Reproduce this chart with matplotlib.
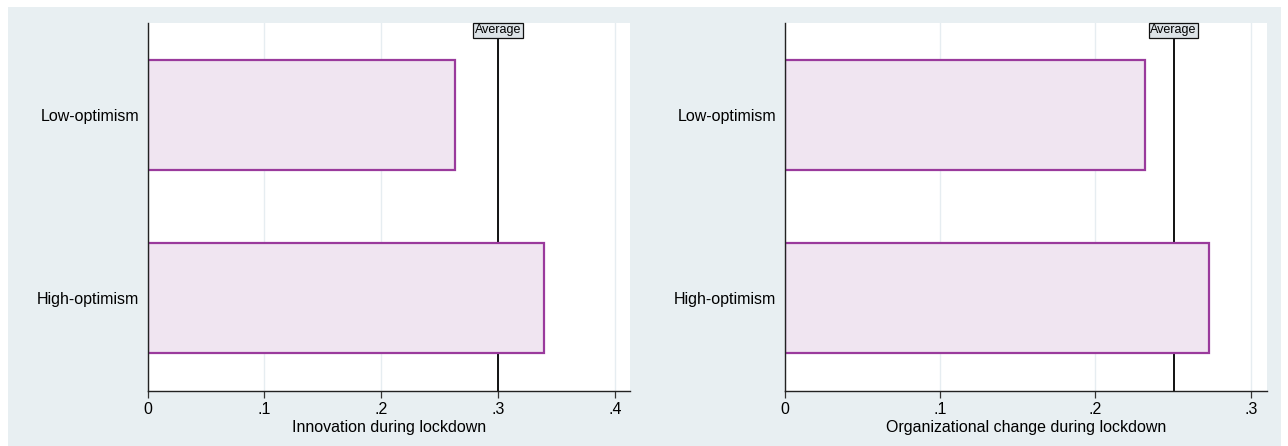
import matplotlib
matplotlib.use("Agg")
import matplotlib.pyplot as plt
from matplotlib.patches import Rectangle

plt.rcParams['font.family'] = ['Liberation Sans', 'DejaVu Sans']

categories = ["Low-optimism", "High-optimism"]
innovation = [0.263, 0.339]
innovation_avg = 0.300
orgchange = [0.2316, 0.2728]
orgchange_avg = 0.2503
xlabels = ["Innovation during lockdown", "Organizational change during lockdown"]
ticks_left = [0, 0.1, 0.2, 0.3, 0.4]
ticks_right = [0, 0.1, 0.2, 0.3]
ticklabels_left = ["0", ".1", ".2", ".3", ".4"]
ticklabels_right = ["0", ".1", ".2", ".3"]

W, H = 1288, 446
fig = plt.figure(figsize=(W / 100, H / 100), dpi=100)
fig.patch.set_facecolor("white")
fig.add_artist(Rectangle((8 / W, 0), (1281 - 8) / W, (H - 7) / H,
                         transform=fig.transFigure, facecolor="#e8eff2",
                         edgecolor="none", zorder=0))

fill = "#f0e5f1"
edge = "#9a3a9c"

def panel(rect, values, avg, xlabel, ticks, ticklabels, xmax):
    ax = fig.add_axes(rect)
    ax.set_facecolor("white")
    ypos = [1, 2]
    ax.axvline(avg, color="#111111", lw=1.4, zorder=1)
    ax.barh(ypos, values, height=0.6, color=fill, edgecolor=edge,
            linewidth=1.6, zorder=2)
    ax.set_ylim(2.505, 0.495)
    ax.set_xlim(0, xmax)
    ax.set_yticks(ypos)
    ax.set_yticklabels(categories, fontsize=11.5)
    ax.tick_params(axis="y", length=0, pad=6)
    ax.set_xticks(ticks)
    ax.set_xticklabels(ticklabels, fontsize=11.5)
    ax.tick_params(axis="x", length=5, width=0.9, color="#333333", pad=3)
    for t in ticks:
        ax.axvline(t, color="#e6edf1", lw=1.0, zorder=0.5)
    ax.set_xlabel(xlabel, fontsize=11.5, labelpad=2)
    for s in ["top", "right"]:
        ax.spines[s].set_visible(False)
    for s in ["left", "bottom"]:
        ax.spines[s].set_color("#222222")
        ax.spines[s].set_linewidth(1.0)
    ax.text(avg, 0.98, "Average", transform=ax.get_xaxis_transform(),
            ha="center", va="center", fontsize=9, zorder=5,
            bbox=dict(boxstyle="square,pad=0.12", facecolor="#dde3e7",
                      edgecolor="#111111", linewidth=0.9))
    return ax

bottom = (H - 391) / H
height = (391 - 22.7) / H
panel([147.6 / W, bottom, (630 - 147.6) / W, height], innovation,
      innovation_avg, xlabels[0], ticks_left, ticklabels_left, 0.413)
panel([784.6 / W, bottom, (1267 - 784.6) / W, height], orgchange,
      orgchange_avg, xlabels[1], ticks_right, ticklabels_right, 0.3104)

fig.savefig("out.png", dpi=100, facecolor=fig.get_facecolor())
